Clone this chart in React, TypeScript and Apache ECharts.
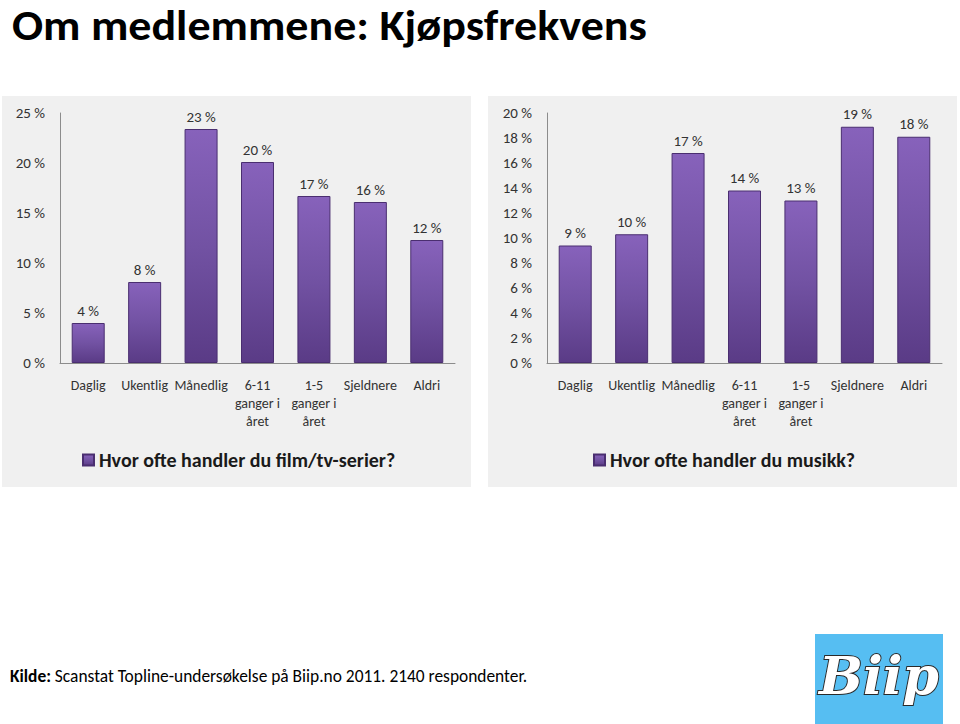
import React, { useEffect, useRef } from "react";
import * as echarts from "echarts";

const categories = ["Daglig", "Ukentlig", "Månedlig", "6-11\nganger i\nåret", "1-5\nganger i\nåret", "Sjeldnere", "Aldri"];
const filmValues = [4.0, 8.1, 23.4, 20.1, 16.7, 16.1, 12.3];
const musikkValues = [9.4, 10.3, 16.8, 13.8, 13.0, 18.9, 18.1];
const filmName = "Hvor ofte handler du film/tv-serier?";
const musikkName = "Hvor ofte handler du musikk?";
const titleText = "Om medlemmene: Kjøpsfrekvens";
const sourceBold = "Kilde:";
const sourceText = " Scanstat Topline-undersøkelse på Biip.no 2011. 2140 respondenter.";

const FONT = "Carlito, Lato, sans-serif";

const barColor = new echarts.graphic.LinearGradient(0, 0, 0, 1, [
  { offset: 0, color: "#8762bb" },
  { offset: 0.5, color: "#7252a3" },
  { offset: 1, color: "#5a3b86" },
]);

export default function App() {
  const ref = useRef<HTMLDivElement>(null);
  useEffect(() => {
    if (!ref.current) return;
    const chart = echarts.init(ref.current, null, { renderer: "svg" });
    const makeX = (gridIndex: number) => ({
      type: "category",
      gridIndex,
      data: categories,
      axisLine: { lineStyle: { color: "#8c8c8c", width: 1 } },
      axisTick: { show: false },
      axisLabel: { color: "#333", fontSize: 14, fontFamily: FONT, interval: 0, margin: 13, lineHeight: 18 },
    });
    const makeY = (gridIndex: number, max: number, interval: number) => ({
      type: "value",
      gridIndex,
      min: 0,
      max,
      interval,
      axisLine: { show: true, lineStyle: { color: "#8c8c8c", width: 1 } },
      axisTick: { show: false },
      splitLine: { show: false },
      axisLabel: { color: "#333", fontSize: 15, fontFamily: FONT, margin: 15, formatter: "{value} %" },
    });
    const makeSeries = (name: string, data: number[], idx: number) => ({
      type: "bar",
      name,
      xAxisIndex: idx,
      yAxisIndex: idx,
      data,
      barWidth: 33,
      itemStyle: { color: barColor, borderColor: "#4a2e70", borderWidth: 1 },
      label: {
        show: true,
        position: "top",
        distance: 5,
        color: "#333",
        fontSize: 15,
        fontFamily: FONT,
        formatter: (p: any) => Math.round(p.value) + " %",
      },
    });
    const legendText = { fontSize: 20, fontWeight: "bold", color: "#1a1a1a", fontFamily: FONT };
    chart.setOption({
      animation: false,
      backgroundColor: "#ffffff",
      grid: [
        { left: 60, right: 505, top: 113, bottom: 361 },
        { left: 547, right: 18, top: 113, bottom: 361 },
      ],
      xAxis: [makeX(0), makeX(1)],
      yAxis: [makeY(0, 25, 5), makeY(1, 20, 2)],
      legend: [
        {
          data: [filmName],
          left: 82,
          top: 450,
          padding: 0,
          icon: "rect",
          itemWidth: 11,
          itemHeight: 11,
          textStyle: legendText,
        },
        {
          data: [musikkName],
          left: 593,
          top: 450,
          padding: 0,
          icon: "rect",
          itemWidth: 11,
          itemHeight: 11,
          textStyle: legendText,
        },
      ],
      series: [makeSeries(filmName, filmValues, 0), makeSeries(musikkName, musikkValues, 1)],
      graphic: [
        { type: "rect", z: -10, shape: { x: 2, y: 96, width: 469, height: 391 }, style: { fill: "#f0f0f0" } },
        { type: "rect", z: -10, shape: { x: 488, y: 96, width: 469, height: 391 }, style: { fill: "#f0f0f0" } },
        {
          type: "text",
          x: 12,
          y: 26,
          scaleX: 1.095,
          style: {
            text: titleText,
            font: `bold 42px ${FONT}`,
            fill: "#000",
            verticalAlign: "middle",
          },
        },
        {
          type: "text",
          x: 10,
          y: 676,
          style: {
            text: `{b|${sourceBold}}${sourceText}`,
            font: `17.4px ${FONT}`,
            fill: "#000",
            verticalAlign: "middle",
            rich: { b: { fontWeight: "bold", fontSize: 17.4, fontFamily: FONT, fill: "#000" } },
          },
        },
        { type: "rect", shape: { x: 815, y: 634, width: 128, height: 90 }, style: { fill: "#56bef2" } },
        {
          type: "text",
          x: 879,
          y: 675,
          style: {
            text: "Biip",
            font: `italic bold 52px "DejaVu Serif", serif`,
            fill: "#ffffff",
            stroke: "#2a2a2a",
            lineWidth: 2,
            align: "center",
            verticalAlign: "middle",
          },
        },
      ],
    });
    return () => chart.dispose();
  }, []);
  return <div ref={ref} style={{ position: "fixed", left: 0, top: 0, width: 960, height: 724 }} />;
}
